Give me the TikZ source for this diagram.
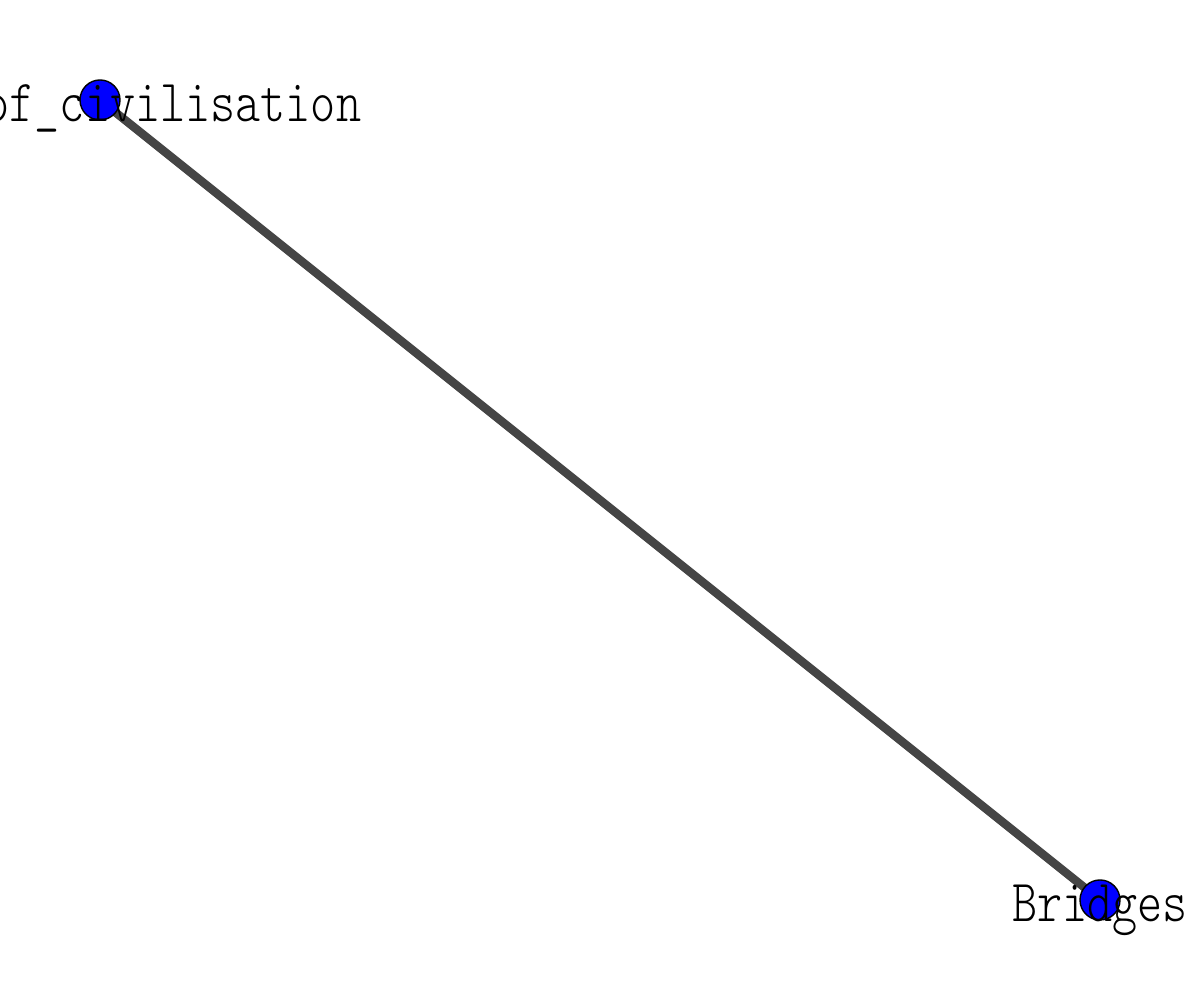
\documentclass[tikz,border=0pt]{standalone}
\usepackage{fontspec}
\setmonofont[FakeStretch=0.8]{Latin Modern Mono Light}
\usepackage{tikz}
\usetikzlibrary{positioning, backgrounds}

\begin{document}
\begin{tikzpicture}[vertex/.style={circle, draw=black, fill=blue, line width=0.4pt, minimum size=0.4cm, inner sep=0pt},
edge/.style={line width=2.4pt, draw=black!73},
lbl/.style={font=\ttfamily\fontsize{17}{19}\selectfont, inner sep=0pt}]

\useasboundingbox (0,0) rectangle (12,10);

%//the two vertices
\node [vertex] (civ) at (1,9) {};
\node [vertex] (bri) at (11,1) {};

\begin{scope}[on background layer]
\draw [edge] (civ.center) -- (bri.center);
\end{scope}

%//labels over the vertices
\node [lbl, anchor=base west] (civlbl) at (-0.16,8.78) {of\_civilisation};
\node [lbl, anchor=base] (brilbl) at (11,0.78) {Bridges};
\end{tikzpicture}
\end{document}
